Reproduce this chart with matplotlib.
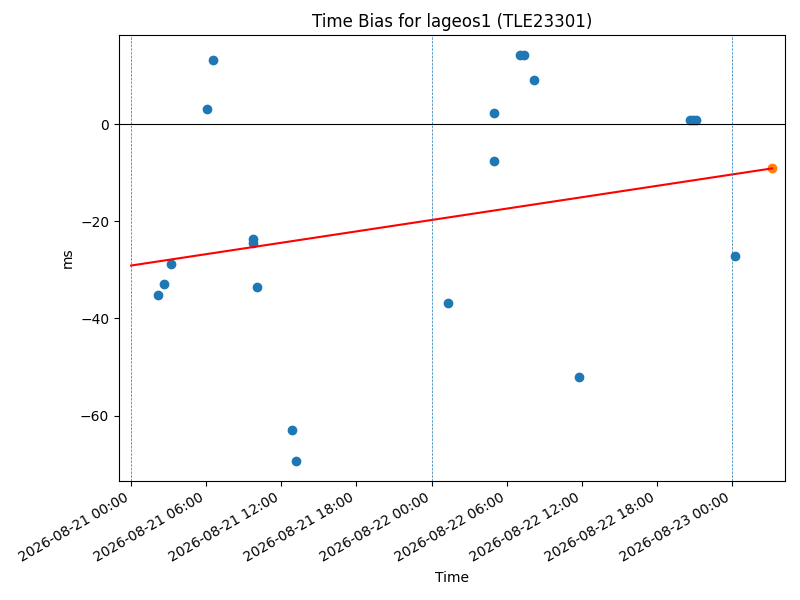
import matplotlib
matplotlib.use("Agg")
import matplotlib.pyplot as plt
import matplotlib.dates as mdates
import pandas as pd

times = ["2026-08-21 02:10", "2026-08-21 02:38", "2026-08-21 03:12", "2026-08-21 06:04",
         "2026-08-21 06:33", "2026-08-21 09:44", "2026-08-21 09:45", "2026-08-21 10:04",
         "2026-08-21 12:52", "2026-08-21 13:11", "2026-08-22 01:18", "2026-08-22 05:00",
         "2026-08-22 05:01", "2026-08-22 07:04", "2026-08-22 07:23", "2026-08-22 08:12",
         "2026-08-22 11:48", "2026-08-22 20:39", "2026-08-22 20:53", "2026-08-22 21:08",
         "2026-08-23 00:12"]
bias_ms = [-35.1, -33.0, -28.7, 3.1, 13.2, -23.7, -24.5, -33.6, -62.9, -69.3, -36.9,
           2.3, -7.6, 14.2, 14.2, 9.1, -52.0, 0.8, 0.8, 0.8, -27.2]

fit_times = ["2026-08-21 00:00", "2026-08-23 03:12"]
fit_vals = [-29.1, -9.1]
pred_time = ["2026-08-23 03:12"]
pred_val = [-9.1]
day_lines = ["2026-08-21 00:00", "2026-08-22 00:00", "2026-08-23 00:00"]
xlim = ["2026-08-20 23:02", "2026-08-23 04:14"]

t = pd.to_datetime(times)
fig, ax = plt.subplots(figsize=(8, 6), dpi=100)
ax.scatter(t, bias_ms, color="C0")
ax.plot(pd.to_datetime(fit_times), fit_vals, color="red")
ax.scatter(pd.to_datetime(pred_time), pred_val, color="C1")
for d in pd.to_datetime(day_lines):
    ax.axvline(d, color="C0", linestyle="--", linewidth=0.5)
ax.axhline(0, color="black", linewidth=0.8)
ax.set_xlim(pd.to_datetime(xlim))
ax.xaxis.set_major_locator(mdates.HourLocator(byhour=[0, 6, 12, 18]))
ax.xaxis.set_major_formatter(mdates.DateFormatter("%Y-%m-%d %H:%M"))
ax.set_title("Time Bias for lageos1 (TLE23301)")
ax.set_xlabel("Time")
ax.set_ylabel("ms")
fig.autofmt_xdate()
fig.subplots_adjust(left=0.14875, right=0.98125, top=0.9417, bottom=0.1983)
fig.savefig("out.png")
